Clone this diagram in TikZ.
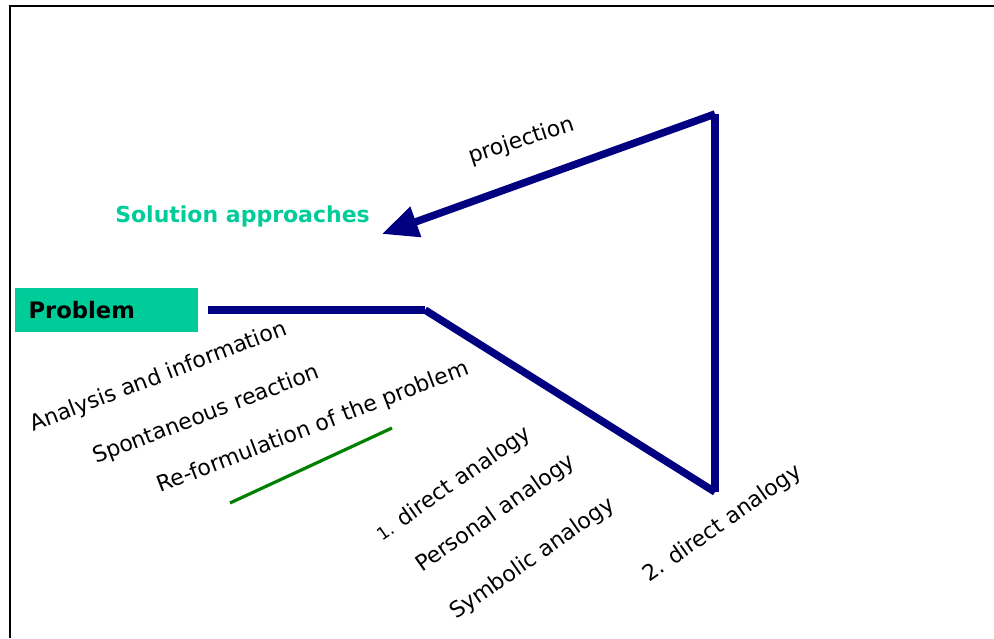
\documentclass[tikz,border=0pt]{standalone}
\usepackage{fontspec}
\setmainfont{DejaVu Sans}
\usepackage{tikz}
\usetikzlibrary{positioning}
\usetikzlibrary{arrows.meta}
\definecolor{navyline}{HTML}{000080}
\definecolor{probgreen}{HTML}{00CC99}
\definecolor{markgreen}{HTML}{008000}
\tikzstyle{problembox} = [rectangle, fill=probgreen, minimum width=137pt, minimum height=33pt,
    text width=117pt, inner xsep=10pt, inner ysep=0pt, align=left, font=\fontsize{17}{19}\selectfont\bfseries]
\tikzstyle{lbl} = [inner sep=0pt, anchor=base west, font=\fontsize{16.5}{19}\selectfont]
\tikzstyle{heading} = [inner sep=0pt, anchor=base west, text=probgreen, font=\fontsize{16.5}{19}\selectfont\bfseries]
\tikzstyle{bar} = [line width=5.6pt, draw=navyline]
\tikzstyle{arrow} = [line width=5.6pt, draw=navyline, -{Triangle[length=27pt,width=23pt]}]
\tikzstyle{underline} = [line width=2.4pt, draw=markgreen]

\begin{document}
\begin{tikzpicture}[x=0.75pt, y=-0.75pt]
\useasboundingbox (0,0) rectangle (994,638);
\draw [line width=2pt] (10,638) -- (10,6) -- (994,6);

\node (problem) [problembox, anchor=west] at (15,310) {Problem};
\node (solution) [heading] at (115,222) {Solution approaches};
\node (proj) [lbl, rotate=18] at (471,164) {projection};
\node (analysis) [lbl, rotate=21] at (33,432) {Analysis and information};
\node (spont) [lbl, rotate=21] at (96,464) {Spontaneous reaction};
\node (reform) [lbl, rotate=21] at (160,493) {Re-formulation of the problem};
\node (direct1) [lbl, rotate=35] at (382,542) {{\fontsize{13}{14}\selectfont 1.} direct analogy};
\node (personal) [lbl, rotate=35] at (422,573) {Personal analogy};
\node (symbolic) [lbl, rotate=35] at (456,620) {Symbolic analogy};
\node (direct2) [lbl, rotate=35] at (649,583) {2. direct analogy};

\coordinate (bend) at (425,310);
\coordinate (low) at (715,492);
\coordinate (high) at (715,114);
\coordinate (tip) at (382,234);
\coordinate (m1) at (230,503);
\coordinate (m2) at (392,428);

\draw [bar] ([xshift=7.5pt]problem.east) -- (bend);
\draw [bar] (bend) -- (low);
\draw [bar] (low) -- (high);
\draw [arrow] (high) -- (tip);
\draw [underline] (m1) -- (m2);

\end{tikzpicture}
\end{document}
